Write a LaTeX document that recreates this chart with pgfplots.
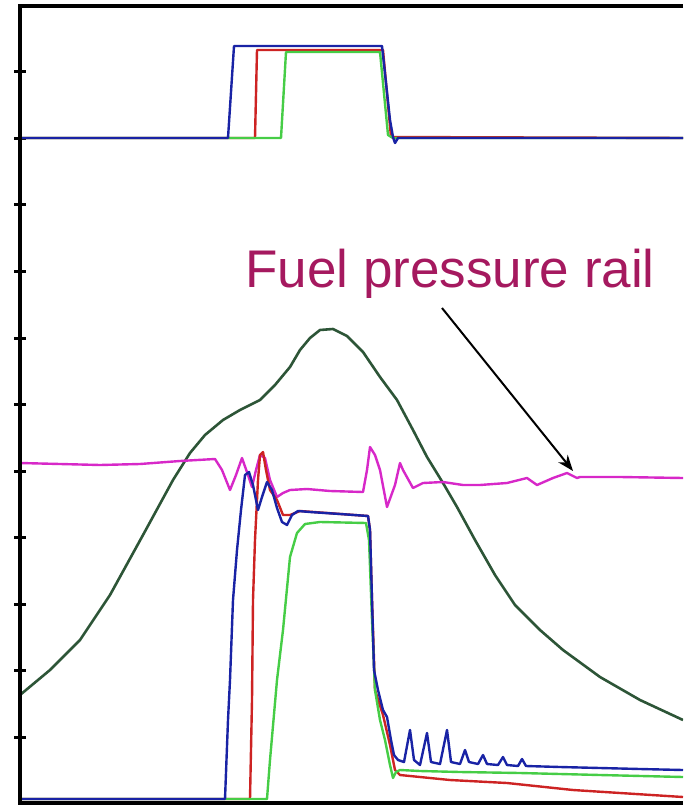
\documentclass[border=0pt]{standalone}
\usepackage{pgfplots}
\pgfplotsset{compat=1.18}
\usepackage{fontspec}
\setmainfont{Liberation Sans}
\usetikzlibrary{arrows.meta}
\definecolor{cblue}{RGB}{25,35,165}
\definecolor{cred}{RGB}{205,35,35}
\definecolor{cgreen}{RGB}{70,205,70}
\definecolor{cdkgreen}{RGB}{45,85,55}
\definecolor{cmag}{RGB}{215,40,200}
\definecolor{ctext}{RGB}{165,25,95}
\begin{document}
\begin{tikzpicture}
\begin{axis}[
  scale only axis, width=331.5pt, height=398.5pt,
  xmin=20, xmax=683, ymin=6, ymax=803, y dir=reverse,
  axis line style={draw=none},
  xtick=\empty,
  ytick={72,138.5,205,271.5,338,404.5,471,537.5,604,670.5,737},
  yticklabels={}, ytick pos=left,
  tick align=center, major tick length=6pt,
  tick style={black, line width=1.5pt},
  every axis plot/.append style={line width=1.2pt, line join=round},
]
% --- top command pulses
\addplot[cred, mark=none] coordinates {(20,138) (255,138) (257,50) (383,50) (391,137) (683,138)};
\addplot[cgreen, mark=none] coordinates {(20,138) (281,138) (286,52) (380,52) (388,135) (393,138) (683,138)};
\addplot[cblue, mark=none] coordinates {(20,138) (228,138) (234,46) (382,46) (390,120) (393,137) (395,143) (398,138) (683,138)};
% --- bell curve
\addplot[cdkgreen, mark=none, line width=1.3pt] coordinates {
(20,695) (50,670) (80,640) (110,595) (143,535) (173,480) (190,453) (205,435)
(223,420) (240,410) (260,400) (275,385) (290,367) (300,350) (310,338) (320,330)
(333,329) (347,336) (363,352) (380,377) (397,400) (413,430) (427,457) (443,483)
(457,507) (475,540) (495,575) (515,605) (540,630) (563,650) (600,677) (640,700) (683,720)};
% --- fuel pressure rail
\addplot[cmag, mark=none] coordinates {
(20,463) (60,464) (100,465) (140,464) (180,461) (215,459) (222,470) (230,490)
(236,475) (242,458) (248,475) (252,487) (256,470) (260,455) (265,458) (270,480)
(277,497) (283,493) (290,490) (307,489) (330,491) (363,492) (367,470) (370,447)
(375,455) (380,470) (387,507) (395,485) (400,463) (403,470) (413,488) (423,483)
(443,482) (463,485) (480,485) (507,483) (527,478) (537,485) (553,478) (567,473)
(577,478) (580,477) (620,477) (683,478)};
% --- bottom traces
\addplot[cred, mark=none] coordinates {
(20,799) (250,799) (252,700) (253,600) (255,540) (258,480) (260,455) (263,452)
(266,470) (270,490) (277,500) (283,515) (290,515) (300,511) (368,516) (370,530)
(372,600) (375,690) (383,715) (390,745) (395,770) (400,775) (430,778) (450,780)
(507,783) (573,790) (683,797)};
\addplot[cgreen, mark=none] coordinates {
(20,799) (267,799) (270,760) (277,680) (283,630) (290,557) (297,533) (305,524)
(320,522) (366,523) (369,540) (372,620) (375,690) (380,720) (385,740) (390,765)
(393,778) (396,772) (400,770) (420,771) (460,772) (520,773) (600,775) (683,777)};
\addplot[cblue, mark=none] coordinates {
(20,799) (225,799) (228,720) (230,680) (233,600) (237,550) (241,510) (245,475)
(249,472) (253,485) (258,510) (262,497) (267,482) (272,490) (277,508) (282,522)
(287,525) (292,515) (298,511) (310,512) (340,514) (368,516) (370,530) (372,600)
(374,670) (378,690) (383,710) (387,717) (391,740) (394,755) (398,760) (404,762)
(410,730) (414,760) (420,765) (427,733) (431,762) (440,764) (447,730) (451,762)
(460,764) (465,750) (469,762) (478,764) (483,755) (487,764) (498,765) (503,757)
(507,765) (518,766) (522,759) (526,766) (560,767) (600,768) (640,769) (683,770)};
% --- annotation
\node[anchor=base west, inner sep=0pt, text=ctext, font=\fontsize{26.5}{30}\selectfont] at (axis cs:245,288) {Fuel pressure rail};
\draw[black, line width=1pt, -{Stealth[length=8pt,width=6pt]}] (axis cs:442,308) -- (axis cs:573,471);
% --- frame coordinates
\coordinate (TL) at (axis cs:20,6);
\coordinate (TR) at (axis cs:683,6);
\coordinate (BL) at (axis cs:20,803);
\coordinate (BR) at (axis cs:683,803);
\coordinate (P0) at (axis cs:0,0);
\coordinate (P1) at (axis cs:683,806);
\end{axis}
\draw[black, line width=2.3pt, line join=miter] (TR) -- (TL) -- (BL) -- (BR);
\path (P0) rectangle (P1);
\end{tikzpicture}
\end{document}
